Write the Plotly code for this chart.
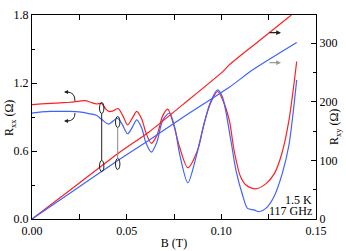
import plotly.graph_objects as go

# ---------------- data ----------------
B_rxx_red = [0.000, 0.005, 0.010, 0.015, 0.020, 0.025, 0.028, 0.031, 0.034, 0.0367,
             0.039, 0.041, 0.043, 0.0455, 0.048, 0.0505, 0.053, 0.0553, 0.058, 0.060,
             0.063, 0.066, 0.069, 0.0717, 0.0745, 0.0779, 0.0823, 0.0875, 0.091, 0.094,
             0.098, 0.1005, 0.1042, 0.1068, 0.110, 0.113, 0.118, 0.1235, 0.128, 0.132,
             0.1357, 0.1398]
rxx_red = [1.01, 1.015, 1.02, 1.025, 1.03, 1.04, 1.045, 1.03, 1.015, 1.02,
           0.97, 0.947, 0.955, 0.975, 0.91, 0.83, 0.89, 0.95, 0.88, 0.77,
           0.668, 0.74, 0.91, 0.97, 0.85, 0.638, 0.453, 0.609, 0.85, 1.01,
           1.125, 1.06, 0.87, 0.60, 0.38, 0.30, 0.265, 0.31, 0.40, 0.58,
           0.87, 1.39]

B_rxx_blue = [0.000, 0.005, 0.010, 0.015, 0.020, 0.025, 0.030, 0.034, 0.0367, 0.0405,
              0.045, 0.0475, 0.0505, 0.053, 0.0553, 0.058, 0.060, 0.063, 0.066, 0.069,
              0.0726, 0.0755, 0.0779, 0.0823, 0.0867, 0.090, 0.094, 0.098, 0.1005, 0.105,
              0.1077, 0.1112, 0.1138, 0.1173, 0.120, 0.1235, 0.1278, 0.1322, 0.1357, 0.1398]
rxx_blue = [0.935, 0.945, 0.95, 0.95, 0.95, 0.945, 0.93, 0.915, 0.88, 0.838,
            0.889, 0.84, 0.752, 0.81, 0.874, 0.80, 0.68, 0.59, 0.68, 0.87,
            0.935, 0.80, 0.58, 0.32, 0.55, 0.78, 1.02, 1.14, 1.08, 0.697,
            0.432, 0.212, 0.094, 0.08, 0.064, 0.094, 0.197, 0.403, 0.653, 1.227]

B_rxy_red = [0.0, 0.02, 0.0463, 0.062, 0.08, 0.1006, 0.1042, 0.12, 0.137]
rxy_red = [0.0, 49.0, 113.8, 149.0, 196.0, 251.0, 263.0, 304.0, 348.0]

B_rxy_blue = [0.0, 0.02, 0.0463, 0.062, 0.08, 0.1042, 0.1164, 0.1398]
rxy_blue = [0.0, 44.0, 101.9, 134.8, 174.0, 224.7, 254.0, 301.0]

x_ticks = [0.00, 0.05, 0.10, 0.15]
y_ticks = [0.0, 0.6, 1.2, 1.8]
y2_ticks = [0, 100, 200, 300]

RED = "#ff1f1f"
BLUE = "#3f62ff"
FONT = "Liberation Serif"

# plot-area geometry (pixels)
L, R, T, Bm = 32, 30, 15, 32
W, H = 346, 251
PW, PH = W - L - R, H - T - Bm
XMAX, YMAX, Y2MAX = 0.15, 1.8, 348


def px2x(px):
    return (px - L) / PW * XMAX


def py2y(py):
    return (H - Bm - py) / PH * YMAX


fig = go.Figure()
fig.add_trace(go.Scatter(x=B_rxx_red, y=rxx_red, mode="lines",
                         line=dict(color=RED, width=1.2, shape="spline", smoothing=0.8)))
fig.add_trace(go.Scatter(x=B_rxx_blue, y=rxx_blue, mode="lines",
                         line=dict(color=BLUE, width=1.2, shape="spline", smoothing=0.8)))
fig.add_trace(go.Scatter(x=B_rxy_red, y=rxy_red, mode="lines", yaxis="y2",
                         line=dict(color=RED, width=1.2, shape="spline", smoothing=0.6)))
fig.add_trace(go.Scatter(x=B_rxy_blue, y=rxy_blue, mode="lines", yaxis="y2",
                         line=dict(color=BLUE, width=1.2, shape="spline", smoothing=0.6)))

shapes = []
# ellipses and connecting lines
for (cx, ytop, ybot, lc) in [(101.7, 108, 166, "#222222"), (117.7, 122, 164, "#888888")]:
    for cy in (ytop, ybot):
        shapes.append(dict(type="circle", xref="x", yref="y",
                           x0=px2x(cx - 2.2), x1=px2x(cx + 2.2),
                           y0=py2y(cy + 5.5), y1=py2y(cy - 5.5),
                           line=dict(color="#222222", width=1)))
    shapes.append(dict(type="line", xref="x", yref="y",
                       x0=px2x(cx), x1=px2x(cx), y0=py2y(ytop + 5.5), y1=py2y(ybot - 5.5),
                       line=dict(color=lc, width=1)))

# curved arrows (arcs)
shapes.append(dict(type="path", xref="x", yref="y",
                   path=f"M {px2x(75)},{py2y(101)} Q {px2x(75)},{py2y(92)} {px2x(67)},{py2y(92)}",
                   line=dict(color="#222222", width=1)))
shapes.append(dict(type="path", xref="x", yref="y",
                   path=f"M {px2x(75)},{py2y(113)} Q {px2x(75)},{py2y(121)} {px2x(67)},{py2y(121)}",
                   line=dict(color="#222222", width=1)))

annotations = []
# arrowheads of curved arrows
for py in (92, 121):
    annotations.append(dict(x=px2x(64), y=py2y(py), xref="x", yref="y",
                            ax=6, ay=0, text="",
                            showarrow=True, arrowhead=2, arrowsize=0.8, arrowwidth=1,
                            arrowcolor="#222222"))
# straight right arrows
for py, col in ((32.7, "#222222"), (62.7, "#999999")):
    annotations.append(dict(x=px2x(281), y=py2y(py), xref="x", yref="y",
                            ax=-13, ay=0, text="", showarrow=True, arrowhead=2,
                            arrowsize=0.8, arrowwidth=1.2, arrowcolor=col))

txtfont = dict(family=FONT, size=12, color="black")
annotations.append(dict(x=px2x(314), y=py2y(200), xref="x", yref="y", text="1.5 K",
                        showarrow=False, xanchor="right", yanchor="middle", font=txtfont))
annotations.append(dict(x=px2x(314), y=py2y(211), xref="x", yref="y", text="117 GHz",
                        showarrow=False, xanchor="right", yanchor="middle", font=txtfont))
annotations.append(dict(x=(10 - L) / PW, y=(H - Bm - 118) / PH, xref="paper", yref="paper",
                        text="R<sub>xx</sub> (Ω)", showarrow=False, textangle=-90,
                        xanchor="center", yanchor="middle", font=txtfont))
annotations.append(dict(x=(335 - L) / PW, y=(H - Bm - 127) / PH, xref="paper", yref="paper",
                        text="R<sub>xy</sub> (Ω)", showarrow=False, textangle=-90,
                        xanchor="center", yanchor="middle", font=txtfont))
for a in annotations:
    fig.add_annotation(a)

axis_common = dict(showline=True, linecolor="black", linewidth=1.3, showgrid=False,
                   zeroline=False, ticks="inside", tickcolor="black", ticklen=5, tickwidth=1,
                   tickfont=txtfont)

fig.update_layout(
    width=W, height=H,
    margin=dict(l=L, r=R, t=T, b=Bm, autoexpand=False),
    paper_bgcolor="white", plot_bgcolor="white",
    showlegend=False,
    font=dict(family=FONT, color="black"),
    shapes=shapes,
    xaxis=dict(range=[0, XMAX], tickvals=x_ticks, ticktext=[f"{v:.2f}" for v in x_ticks],
               mirror="allticks",
               minor=dict(tickvals=[0.025, 0.075, 0.125], ticks="inside", ticklen=3,
                          tickcolor="black"),
               title=dict(text="B (T)", font=txtfont, standoff=2),
               **axis_common),
    yaxis=dict(range=[0, YMAX], tickvals=y_ticks, ticktext=[f"{v:.1f}" for v in y_ticks],
               minor=dict(tickvals=[0.3, 0.9, 1.5], ticks="inside", ticklen=3,
                          tickcolor="black"),
               **axis_common),
    yaxis2=dict(range=[0, Y2MAX], overlaying="y", side="right", tickvals=y2_ticks,
                ticktext=[str(v) for v in y2_ticks],
                minor=dict(tickvals=[50, 150, 250], ticks="inside", ticklen=3,
                           tickcolor="black"),
                **axis_common),
)

fig.write_html("out.html", config={"displayModeBar": False},
               post_script="document.body.style.margin='0';")
